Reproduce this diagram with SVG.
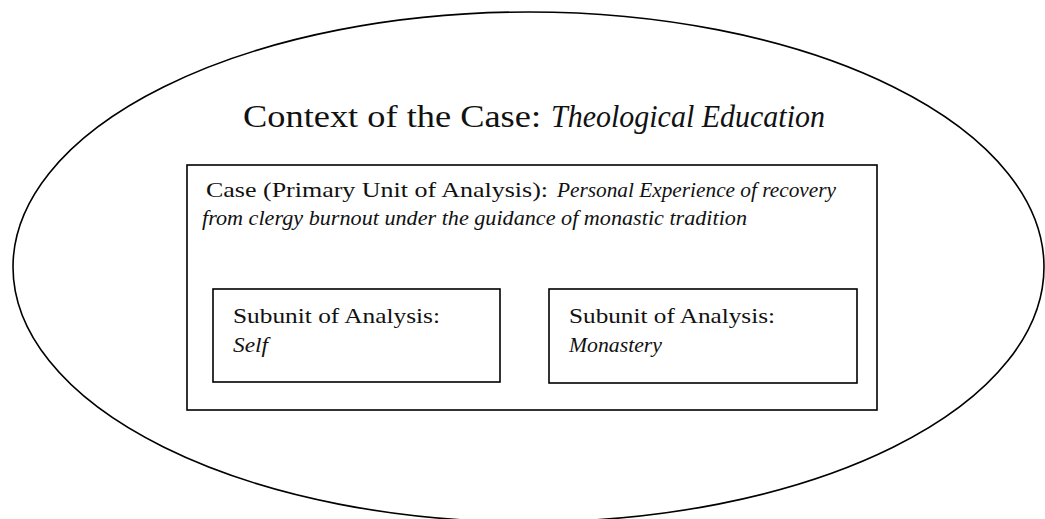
<svg xmlns="http://www.w3.org/2000/svg" width="1045" height="519" viewBox="0 0 1045 519">
<style>
.shape{fill:none;stroke:#000;stroke-width:1.6}
.t{fill:#111}
.i{font-style:italic}
</style>
<rect x="0" y="0" width="1045" height="519" fill="#fff"/>
<g id="context" font-family="Liberation Serif, Tinos, Times New Roman, serif">
<ellipse class="shape" cx="528.5" cy="267" rx="515.5" ry="255"/>
<text class="t" x="243" y="127" font-size="31" textLength="298" lengthAdjust="spacingAndGlyphs">Context of the Case:</text>
<text class="t i" x="551" y="127" font-size="31" textLength="274" lengthAdjust="spacingAndGlyphs">Theological Education</text>
</g>
<g id="case" font-family="Liberation Serif, Tinos, Times New Roman, serif">
<rect class="shape" x="187" y="165" width="690" height="245"/>
<text class="t" x="206" y="197" font-size="21" textLength="342" lengthAdjust="spacingAndGlyphs">Case (Primary Unit of Analysis):</text>
<text class="t i" x="557" y="197" font-size="21" textLength="279" lengthAdjust="spacingAndGlyphs">Personal Experience of recovery</text>
<text class="t i" x="202" y="225" font-size="21" textLength="545" lengthAdjust="spacingAndGlyphs">from clergy burnout under the guidance of monastic tradition</text>
</g>
<g id="subunit-self" font-family="Liberation Serif, Tinos, Times New Roman, serif">
<rect class="shape" x="213" y="289" width="287" height="93"/>
<text class="t" x="233" y="323" font-size="21" textLength="207" lengthAdjust="spacingAndGlyphs">Subunit of Analysis:</text>
<text class="t i" x="233" y="352" font-size="21" textLength="35" lengthAdjust="spacingAndGlyphs">Self</text>
</g>
<g id="subunit-monastery" font-family="Liberation Serif, Tinos, Times New Roman, serif">
<rect class="shape" x="549" y="289" width="308" height="94"/>
<text class="t" x="569" y="323" font-size="21" textLength="206" lengthAdjust="spacingAndGlyphs">Subunit of Analysis:</text>
<text class="t i" x="569" y="352" font-size="21" textLength="93" lengthAdjust="spacingAndGlyphs">Monastery</text>
</g>
<g id="connectors"></g>
</svg>
